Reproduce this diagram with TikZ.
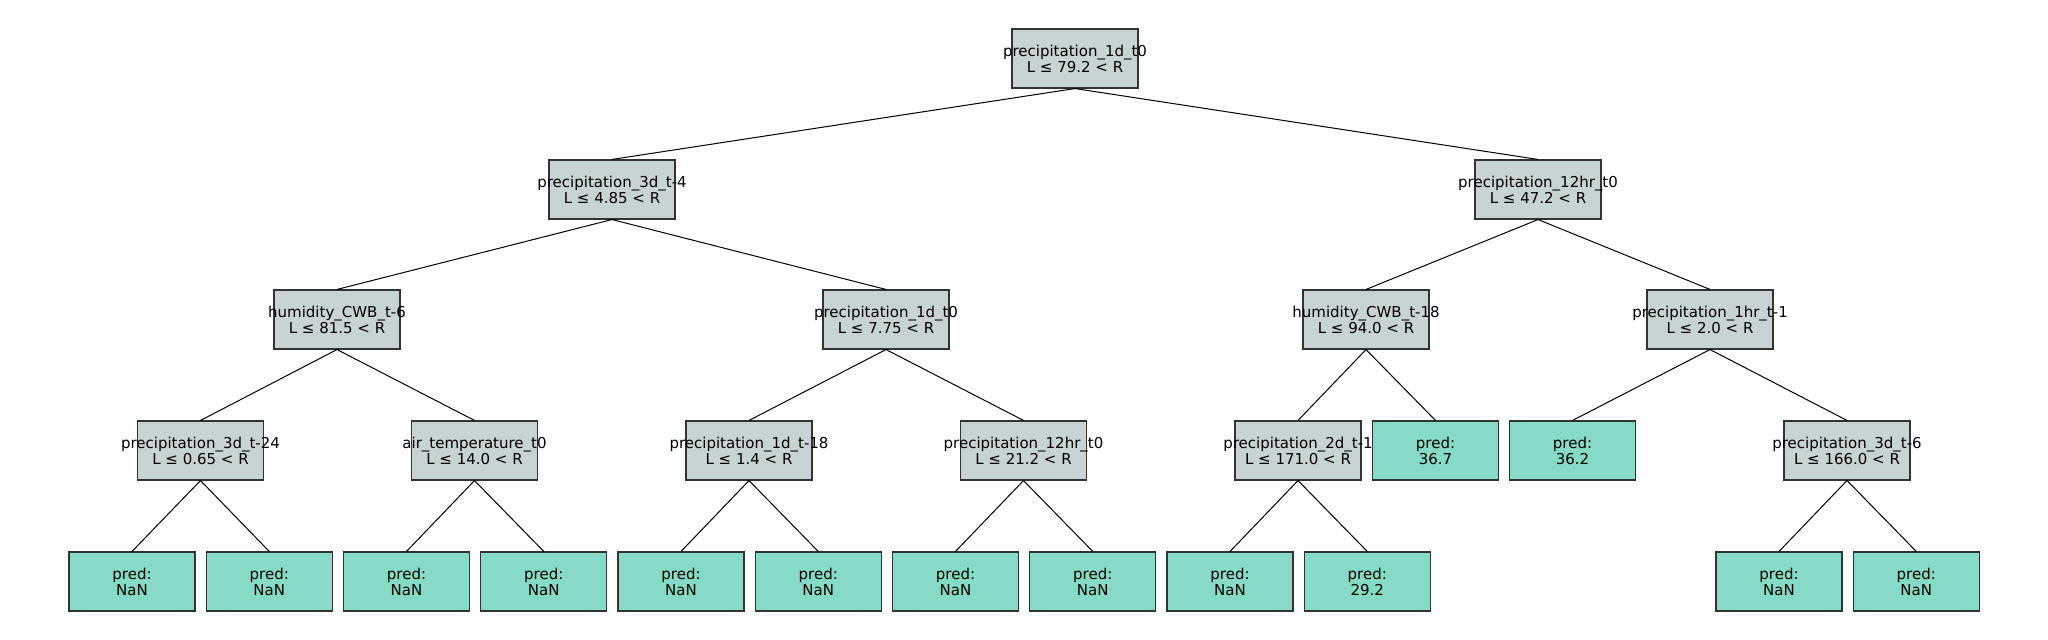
\documentclass[tikz,border=0pt]{standalone}
\usepackage{fontspec}
\setmainfont{DejaVu Sans}
\definecolor{splitgray}{HTML}{C8D3D4}
\definecolor{leafteal}{HTML}{85DBC5}
\definecolor{boxline}{HTML}{333333}
\tikzset{
  box/.style={draw=boxline, line width=0.55pt, minimum width=63pt, minimum height=29.5pt,
    inner sep=0pt, align=center, font=\fontsize{7.5pt}{8pt}\selectfont},
  split/.style={box, fill=splitgray},
  leaf/.style={box, fill=leafteal},
  edge/.style={draw=black, line width=0.5pt}
}
\newcommand\twol[2]{\makebox[0pt]{#1}\\\makebox[0pt]{#2}}
\begin{document}
\begin{tikzpicture}[x=0.5pt,y=-0.5pt]
\useasboundingbox (0,0) rectangle (2048,640);
% level 0
\node[split] (r) at (1075,58.5) {\twol{precipitation\_1d\_t0}{L ≤ 79.2 < R}};
% level 1
\node[split] (a) at (612,189.5) {\twol{precipitation\_3d\_t-4}{L ≤ 4.85 < R}};
\node[split] (b) at (1538,189.5) {\twol{precipitation\_12hr\_t0}{L ≤ 47.2 < R}};
% level 2
\node[split] (aa) at (337,319.5) {\twol{humidity\_CWB\_t-6}{L ≤ 81.5 < R}};
\node[split] (ab) at (886,319.5) {\twol{precipitation\_1d\_t0}{L ≤ 7.75 < R}};
\node[split] (ba) at (1366,319.5) {\twol{humidity\_CWB\_t-18}{L ≤ 94.0 < R}};
\node[split] (bb) at (1710,319.5) {\twol{precipitation\_1hr\_t-1}{L ≤ 2.0 < R}};
% level 3
\node[split] (aaa) at (200.5,450.5) {\twol{precipitation\_3d\_t-24}{L ≤ 0.65 < R}};
\node[split] (aab) at (474.5,450.5) {\twol{air\_temperature\_t0}{L ≤ 14.0 < R}};
\node[split] (aba) at (749,450.5) {\twol{precipitation\_1d\_t-18}{L ≤ 1.4 < R}};
\node[split] (abb) at (1023.5,450.5) {\twol{precipitation\_12hr\_t0}{L ≤ 21.2 < R}};
\node[split] (baa) at (1298,450.5) {\twol{precipitation\_2d\_t-1}{L ≤ 171.0 < R}};
\node[leaf]  (bab) at (1435.5,450.5) {\twol{pred:}{36.7}};
\node[leaf]  (bba) at (1572.5,450.5) {\twol{pred:}{36.2}};
\node[split] (bbb) at (1847,450.5) {\twol{precipitation\_3d\_t-6}{L ≤ 166.0 < R}};
% level 4
\node[leaf] (l1) at (132,581.5) {\twol{pred:}{NaN}};
\node[leaf] (l2) at (269.25,581.5) {\twol{pred:}{NaN}};
\node[leaf] (l3) at (406.5,581.5) {\twol{pred:}{NaN}};
\node[leaf] (l4) at (543.75,581.5) {\twol{pred:}{NaN}};
\node[leaf] (l5) at (681,581.5) {\twol{pred:}{NaN}};
\node[leaf] (l6) at (818.25,581.5) {\twol{pred:}{NaN}};
\node[leaf] (l7) at (955.5,581.5) {\twol{pred:}{NaN}};
\node[leaf] (l8) at (1092.75,581.5) {\twol{pred:}{NaN}};
\node[leaf] (l9) at (1230,581.5) {\twol{pred:}{NaN}};
\node[leaf] (l10) at (1367.25,581.5) {\twol{pred:}{29.2}};
\node[leaf] (l11) at (1779,581.5) {\twol{pred:}{NaN}};
\node[leaf] (l12) at (1916.25,581.5) {\twol{pred:}{NaN}};
% edges
\foreach \p/\c in {r/a, r/b, a/aa, a/ab, b/ba, b/bb,
  aa/aaa, aa/aab, ab/aba, ab/abb, ba/baa, ba/bab, bb/bba, bb/bbb,
  aaa/l1, aaa/l2, aab/l3, aab/l4, aba/l5, aba/l6, abb/l7, abb/l8,
  baa/l9, baa/l10, bbb/l11, bbb/l12}
  \draw[edge] (\p.south) -- (\c.north);
\end{tikzpicture}
\end{document}
